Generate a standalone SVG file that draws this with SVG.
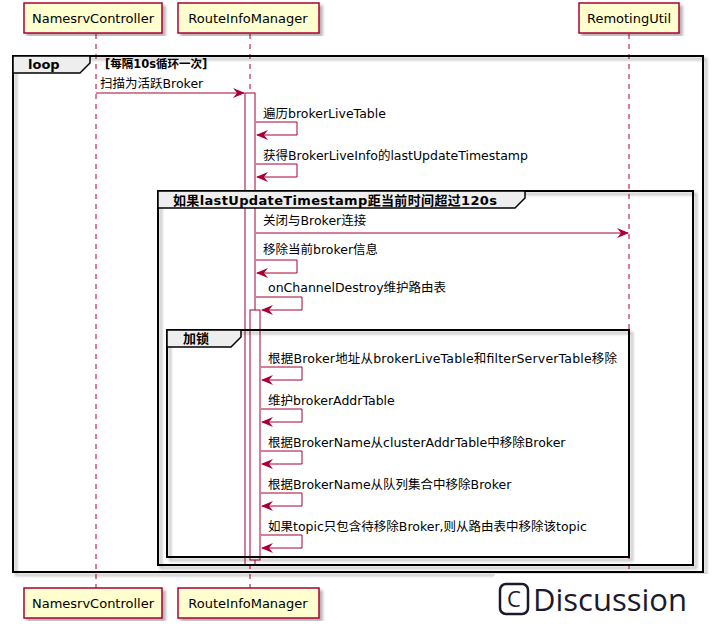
<svg xmlns="http://www.w3.org/2000/svg" width="712" height="628" viewBox="0 0 712 628">
<style>
text{font-family:"DejaVu Sans","Noto Sans CJK SC",sans-serif;font-size:12.5px;fill:#000}
.p{fill:#FEFECE;stroke:#A80036;stroke-width:1.5}
.pt{font-size:13px}
.life{stroke:#A80036;stroke-dasharray:5,5;stroke-width:1}
.act{fill:#fff;stroke:#A80036;stroke-width:1}
.msg{stroke:#A80036;stroke-width:1;fill:none}
.fr{fill:none;stroke:#000;stroke-width:2}
.tab{fill:#EEEEEE;stroke:#000;stroke-width:1.5}
.b{font-weight:bold;font-size:11.5px}
.bt{font-weight:bold;font-size:13px}
</style>
<defs>
<marker id="ah" viewBox="0 0 12 10" refX="11" refY="5" markerWidth="12" markerHeight="10" orient="auto" markerUnits="userSpaceOnUse"><path d="M0,0 L12,5 L0,10 L4,5 Z" fill="#A80036"/></marker>
<filter id="sh" x="-5%" y="-5%" width="115%" height="115%"><feDropShadow dx="3" dy="3" stdDeviation="1.5" flood-color="#000" flood-opacity="0.3"/></filter>
</defs>
<rect width="712" height="628" fill="#fff"/>
<g id="lifelines">
<line class="life" x1="96" y1="34" x2="96" y2="588"/>
<line class="life" x1="250" y1="34" x2="250" y2="588"/>
<line class="life" x1="629" y1="34" x2="629" y2="588"/>
</g>
<g id="NamesrvController">
<rect class="p" x="24" y="3" width="138" height="30" filter="url(#sh)"/><text class="pt" x="93" y="23" text-anchor="middle">NamesrvController</text>
<rect class="p" x="24" y="588" width="138" height="30" filter="url(#sh)"/><text class="pt" x="93" y="608" text-anchor="middle">NamesrvController</text>
</g>
<g id="RouteInfoManager">
<rect class="p" x="178" y="3" width="141" height="30" filter="url(#sh)"/><text class="pt" x="248" y="23" text-anchor="middle">RouteInfoManager</text>
<rect class="p" x="178" y="588" width="141" height="30" filter="url(#sh)"/><text class="pt" x="248" y="608" text-anchor="middle">RouteInfoManager</text>
</g>
<g id="RemotingUtil">
<rect class="p" x="579" y="3" width="100" height="30" filter="url(#sh)"/><text class="pt" x="629" y="23" text-anchor="middle">RemotingUtil</text>
</g>
<g id="activations">
<rect class="act" x="245" y="93" width="10" height="472"/>
<rect class="act" x="250" y="310" width="10" height="250"/>
</g>
<g id="frames">
<rect class="fr" x="13" y="56" width="690" height="516" filter="url(#sh)"/>
<path class="tab" d="M13,56 H90 V63 L80,73 H13 Z"/>
<text class="bt" x="28" y="69">loop</text>
<text class="b" x="105" y="68">[每隔10s循环一次]</text>
<rect class="fr" x="158" y="191" width="535" height="374" filter="url(#sh)"/>
<path class="tab" d="M158,191 H525 V198 L515,208 H158 Z"/>
<text class="bt" x="173" y="205" textLength="324">如果lastUpdateTimestamp距当前时间超过120s</text>
<rect class="fr" x="167" y="330" width="462" height="227" filter="url(#sh)"/>
<path class="tab" d="M167,330 H241 V337 L231,347 H167 Z"/>
<text class="bt" x="183" y="343">加锁</text>
</g>
<g id="connectors">
<text x="100" y="88">扫描为活跃Broker</text>
<line class="msg" x1="96" y1="93" x2="244" y2="93" marker-end="url(#ah)"/>
<text x="263" y="118">遍历brokerLiveTable</text>
<path class="msg" d="M256,122 H297 V135 H257" marker-end="url(#ah)"/>
<text x="263" y="160">获得BrokerLiveInfo的lastUpdateTimestamp</text>
<path class="msg" d="M256,164 H297 V177 H257" marker-end="url(#ah)"/>
<text x="263" y="225">关闭与Broker连接</text>
<line class="msg" x1="256" y1="233" x2="628" y2="233" marker-end="url(#ah)"/>
<text x="263" y="254">移除当前broker信息</text>
<path class="msg" d="M256,260 H297 V273 H257" marker-end="url(#ah)"/>
<text x="268" y="292">onChannelDestroy维护路由表</text>
<path class="msg" d="M256,297 H302 V310 H262" marker-end="url(#ah)"/>
<text x="268" y="363" textLength="349">根据Broker地址从brokerLiveTable和filterServerTable移除</text>
<path class="msg" d="M261,367 H302 V380 H262" marker-end="url(#ah)"/>
<text x="268" y="405">维护brokerAddrTable</text>
<path class="msg" d="M261,409 H302 V422 H262" marker-end="url(#ah)"/>
<text x="268" y="447">根据BrokerName从clusterAddrTable中移除Broker</text>
<path class="msg" d="M261,451 H302 V464 H262" marker-end="url(#ah)"/>
<text x="268" y="489">根据BrokerName从队列集合中移除Broker</text>
<path class="msg" d="M261,493 H302 V506 H262" marker-end="url(#ah)"/>
<text x="268" y="531">如果topic只包含待移除Broker,则从路由表中移除该topic</text>
<path class="msg" d="M261,535 H302 V548 H262" marker-end="url(#ah)"/>
</g>
<g id="watermark">
<path d="M470,628 L495,574 H712 V628 Z" fill="#fff"/>
<rect x="500" y="584" width="28" height="30" rx="6" fill="none" stroke="#1a1a2e" stroke-width="2.5"/>
<text x="514" y="607" text-anchor="middle" style="font-family:'Open Sans',sans-serif;font-size:22px;fill:#1a1a2e">C</text>
<text x="533" y="611" textLength="154" style="font-family:'Open Sans',sans-serif;font-size:31px;fill:#1a1a2e">Discussion</text>
</g>
</svg>
